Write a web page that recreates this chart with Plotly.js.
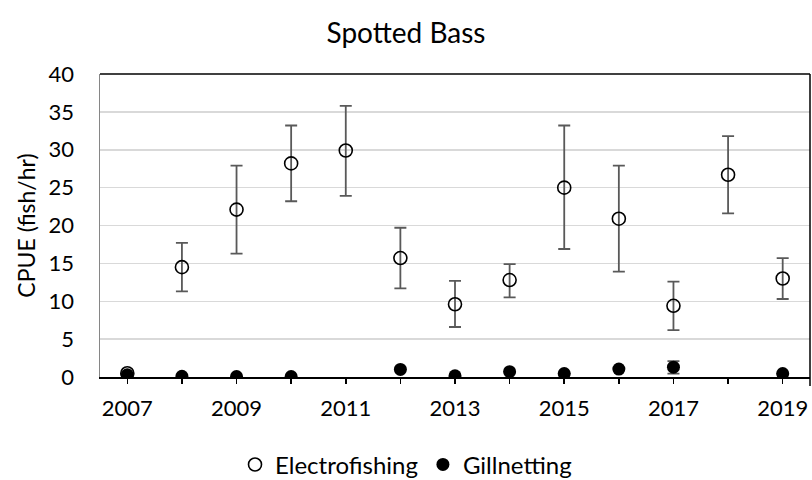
<!DOCTYPE html>
<html>
<head>
<meta charset="utf-8">
<script src="https://cdn.plot.ly/plotly-3.0.1.min.js"></script>
<style>html,body{margin:0;padding:0;background:#fff;}#chart{width:812px;height:480px;}</style>
</head>
<body>
<div id="chart"></div>
<script>
const years = [2007, 2008, 2009, 2010, 2011, 2012, 2013, 2014, 2015, 2016, 2017, 2018, 2019];
const tickLabels = ["2007", "", "2009", "", "2011", "", "2013", "", "2015", "", "2017", "", "2019"];

const electroCPUE = [0.5, 14.5, 22.1, 28.2, 29.9, 15.7, 9.6, 12.8, 25.0, 20.9, 9.4, 26.7, 13.0];
const electroUpper = [null, 17.7, 27.9, 33.2, 35.8, 19.7, 12.7, 14.9, 33.2, 27.9, 12.6, 31.8, 15.7];
const electroLower = [null, 11.3, 16.3, 23.2, 23.9, 11.7, 6.6, 10.5, 16.9, 13.9, 6.2, 21.6, 10.3];

const gillCPUE = [0.3, 0.1, 0.05, 0.05, null, 1.0, 0.15, 0.7, 0.45, 1.05, 1.3, null, 0.45];
const gillUpper = [null, null, null, null, null, null, null, null, null, null, 2.1, null, null];
const gillLower = [null, null, null, null, null, null, null, null, null, null, 0.45, null, null];

function plus(v, u) { return v.map((x, i) => (x == null || u[i] == null) ? 0 : u[i] - x); }
function minus(v, l) { return v.map((x, i) => (x == null || l[i] == null) ? 0 : x - l[i]); }

const fontFam = "Lato, 'Open Sans', sans-serif";

const traces = [
  {
    x: years, y: electroCPUE, name: "Electrofishing", type: "scatter", mode: "markers",
    marker: {symbol: "circle", size: 13, color: "rgba(255,255,255,0)", line: {color: "#000", width: 1.6}},
    error_y: {type: "data", symmetric: false, array: plus(electroCPUE, electroUpper),
              arrayminus: minus(electroCPUE, electroLower), color: "#595959", thickness: 1.8, width: 6}
  },
  {
    x: years, y: gillCPUE, name: "Gillnetting", type: "scatter", mode: "markers",
    marker: {symbol: "circle", size: 13, color: "#000", line: {color: "#000", width: 0}},
    error_y: {type: "data", symmetric: false, array: plus(gillCPUE, gillUpper),
              arrayminus: minus(gillCPUE, gillLower), color: "#595959", thickness: 1.8, width: 6}
  }
];

const layout = {
  width: 812, height: 480,
  margin: {l: 100, r: 2, t: 74, b: 103, autoexpand: false},
  paper_bgcolor: "#fff", plot_bgcolor: "#fff",
  font: {family: fontFam, color: "#000", size: 22},
  title: {text: "Spotted Bass", x: 0.5, xref: "container", y: 0.93, yref: "container", yanchor: "middle",
          font: {family: fontFam, size: 28, color: "#000"}},
  xaxis: {
    range: [2006.5, 2019.5], tickmode: "array", tickvals: years, ticktext: tickLabels, tickangle: 0,
    showgrid: false, zeroline: false, showline: true, linecolor: "#000", linewidth: 2,
    ticks: "outside", ticklen: 5, tickcolor: "#000", tickwidth: 1.5, ticklabelstandoff: 6,
    tickfont: {family: fontFam, size: 22, color: "#000"}, fixedrange: true, automargin: false
  },
  yaxis: {
    range: [0, 40], dtick: 5, tick0: 0,
    showgrid: true, gridcolor: "#d9d9d9", gridwidth: 1.5, zeroline: false,
    showline: true, linecolor: "#868686", linewidth: 1.5, ticks: "", ticklabelstandoff: 20,
    tickfont: {family: fontFam, size: 22, color: "#000"},
    title: {text: "CPUE (fish/hr)", font: {family: fontFam, size: 23, color: "#000"}, standoff: 6},
    fixedrange: true, automargin: false
  },
  showlegend: true,
  legend: {orientation: "h", x: 0.431, xanchor: "center", y: -0.29, yanchor: "middle", itemwidth: 30,
           font: {family: fontFam, size: 24, color: "#000"}, tracegroupgap: 0},
  shapes: [
    {type: "line", xref: "paper", yref: "paper", x0: 0, x1: 1, y0: 1, y1: 1, line: {color: "#000", width: 1.5}},
    {type: "line", xref: "paper", yref: "paper", x0: 1, x1: 1, y0: -0.03, y1: 1, line: {color: "#000", width: 1.5}}
  ]
};

Plotly.newPlot("chart", traces, layout, {staticPlot: true, displayModeBar: false});
</script>
</body>
</html>
